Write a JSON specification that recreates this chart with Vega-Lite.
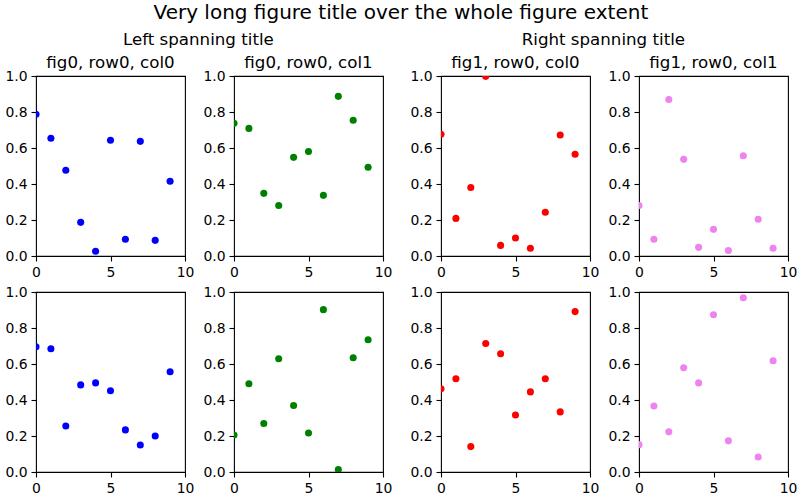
{
  "$schema": "https://vega.github.io/schema/vega-lite/v6.json",
  "padding": {"left": 4, "top": 3, "right": 0, "bottom": 0},
  "title": {"text": "Very long figure title over the whole figure extent", "fontSize": 20, "anchor": "middle", "frame": "bounds", "baseline": "alphabetic", "offset": -7},
  "datasets": {
    "f0r0c0": [{"x":0,"y":0.787},{"x":1,"y":0.654},{"x":2,"y":0.476},{"x":3,"y":0.187},{"x":4,"y":0.026},{"x":5,"y":0.643},{"x":6,"y":0.093},{"x":7,"y":0.637},{"x":8,"y":0.087},{"x":9,"y":0.415}],
    "f0r0c1": [{"x":0,"y":0.737},{"x":1,"y":0.709},{"x":2,"y":0.348},{"x":3,"y":0.281},{"x":4,"y":0.548},{"x":5,"y":0.581},{"x":6,"y":0.337},{"x":7,"y":0.887},{"x":8,"y":0.754},{"x":9,"y":0.493}],
    "f1r0c0": [{"x":0,"y":0.676},{"x":1,"y":0.209},{"x":2,"y":0.381},{"x":3,"y":0.998},{"x":4,"y":0.059},{"x":5,"y":0.100},{"x":6,"y":0.043},{"x":7,"y":0.243},{"x":8,"y":0.672},{"x":9,"y":0.565}],
    "f1r0c1": [{"x":0,"y":0.281},{"x":1,"y":0.093},{"x":2,"y":0.869},{"x":3,"y":0.537},{"x":4,"y":0.048},{"x":5,"y":0.148},{"x":6,"y":0.031},{"x":7,"y":0.557},{"x":8,"y":0.204},{"x":9,"y":0.043}],
    "f0r1c0": [{"x":0,"y":0.696},{"x":1,"y":0.685},{"x":2,"y":0.256},{"x":3,"y":0.484},{"x":4,"y":0.495},{"x":5,"y":0.451},{"x":6,"y":0.234},{"x":7,"y":0.150},{"x":8,"y":0.200},{"x":9,"y":0.557}],
    "f0r1c1": [{"x":0,"y":0.206},{"x":1,"y":0.490},{"x":2,"y":0.269},{"x":3,"y":0.629},{"x":4,"y":0.369},{"x":5,"y":0.217},{"x":6,"y":0.902},{"x":7,"y":0.013},{"x":8,"y":0.635},{"x":9,"y":0.735}],
    "f1r1c0": [{"x":0,"y":0.462},{"x":1,"y":0.518},{"x":2,"y":0.141},{"x":3,"y":0.714},{"x":4,"y":0.657},{"x":5,"y":0.317},{"x":6,"y":0.445},{"x":7,"y":0.518},{"x":8,"y":0.334},{"x":9,"y":0.891}],
    "f1r1c1": [{"x":0,"y":0.152},{"x":1,"y":0.367},{"x":2,"y":0.223},{"x":3,"y":0.579},{"x":4,"y":0.495},{"x":5,"y":0.874},{"x":6,"y":0.173},{"x":7,"y":0.968},{"x":8,"y":0.083},{"x":9,"y":0.618}]
  },
  "hconcat": [
    {
      "title": {"text": "Left spanning title", "baseline": "alphabetic", "offset": -7},
      "vconcat": [
        {"hconcat": [
          {"width": 149, "height": 180, "data": {"name": "f0r0c0"}, "title": {"text": "fig0, row0, col0", "baseline": "alphabetic", "offset": -16},
           "mark": {"type": "circle", "color": "#0000ff", "size": 50, "opacity": 1, "clip": true},
           "encoding": {"x": {"field": "x", "type": "quantitative", "title": null, "scale": {"domain": [0, 10], "nice": false}, "axis": {"values": [0, 5, 10]}},
                        "y": {"field": "y", "type": "quantitative", "title": null, "scale": {"domain": [0, 1], "nice": false}, "axis": {"values": [0, 0.2, 0.4, 0.6, 0.8, 1], "format": ".1f"}}}},
          {"width": 149, "height": 180, "data": {"name": "f0r0c1"}, "title": {"text": "fig0, row0, col1", "baseline": "alphabetic", "offset": -16},
           "mark": {"type": "circle", "color": "#008000", "size": 50, "opacity": 1, "clip": true},
           "encoding": {"x": {"field": "x", "type": "quantitative", "title": null, "scale": {"domain": [0, 10], "nice": false}, "axis": {"values": [0, 5, 10]}},
                        "y": {"field": "y", "type": "quantitative", "title": null, "scale": {"domain": [0, 1], "nice": false}, "axis": {"values": [0, 0.2, 0.4, 0.6, 0.8, 1], "format": ".1f"}}}}
        ], "spacing": 7},
        {"hconcat": [
          {"width": 149, "height": 180, "data": {"name": "f0r1c0"},
           "mark": {"type": "circle", "color": "#0000ff", "size": 50, "opacity": 1, "clip": true},
           "encoding": {"x": {"field": "x", "type": "quantitative", "title": null, "scale": {"domain": [0, 10], "nice": false}, "axis": {"values": [0, 5, 10]}},
                        "y": {"field": "y", "type": "quantitative", "title": null, "scale": {"domain": [0, 1], "nice": false}, "axis": {"values": [0, 0.2, 0.4, 0.6, 0.8, 1], "format": ".1f"}}}},
          {"width": 149, "height": 180, "data": {"name": "f0r1c1"},
           "mark": {"type": "circle", "color": "#008000", "size": 50, "opacity": 1, "clip": true},
           "encoding": {"x": {"field": "x", "type": "quantitative", "title": null, "scale": {"domain": [0, 10], "nice": false}, "axis": {"values": [0, 5, 10]}},
                        "y": {"field": "y", "type": "quantitative", "title": null, "scale": {"domain": [0, 1], "nice": false}, "axis": {"values": [0, 0.2, 0.4, 0.6, 0.8, 1], "format": ".1f"}}}}
        ], "spacing": 7}
      ],
      "spacing": 4
    },
    {
      "title": {"text": "Right spanning title", "baseline": "alphabetic", "offset": -7},
      "vconcat": [
        {"hconcat": [
          {"width": 149, "height": 180, "data": {"name": "f1r0c0"}, "title": {"text": "fig1, row0, col0", "baseline": "alphabetic", "offset": -16},
           "mark": {"type": "circle", "color": "#ff0000", "size": 50, "opacity": 1, "clip": true},
           "encoding": {"x": {"field": "x", "type": "quantitative", "title": null, "scale": {"domain": [0, 10], "nice": false}, "axis": {"values": [0, 5, 10]}},
                        "y": {"field": "y", "type": "quantitative", "title": null, "scale": {"domain": [0, 1], "nice": false}, "axis": {"values": [0, 0.2, 0.4, 0.6, 0.8, 1], "format": ".1f"}}}},
          {"width": 149, "height": 180, "data": {"name": "f1r0c1"}, "title": {"text": "fig1, row0, col1", "baseline": "alphabetic", "offset": -16},
           "mark": {"type": "circle", "color": "#ee82ee", "size": 50, "opacity": 1, "clip": true},
           "encoding": {"x": {"field": "x", "type": "quantitative", "title": null, "scale": {"domain": [0, 10], "nice": false}, "axis": {"values": [0, 5, 10]}},
                        "y": {"field": "y", "type": "quantitative", "title": null, "scale": {"domain": [0, 1], "nice": false}, "axis": {"values": [0, 0.2, 0.4, 0.6, 0.8, 1], "format": ".1f"}}}}
        ], "spacing": 7},
        {"hconcat": [
          {"width": 149, "height": 180, "data": {"name": "f1r1c0"},
           "mark": {"type": "circle", "color": "#ff0000", "size": 50, "opacity": 1, "clip": true},
           "encoding": {"x": {"field": "x", "type": "quantitative", "title": null, "scale": {"domain": [0, 10], "nice": false}, "axis": {"values": [0, 5, 10]}},
                        "y": {"field": "y", "type": "quantitative", "title": null, "scale": {"domain": [0, 1], "nice": false}, "axis": {"values": [0, 0.2, 0.4, 0.6, 0.8, 1], "format": ".1f"}}}},
          {"width": 149, "height": 180, "data": {"name": "f1r1c1"},
           "mark": {"type": "circle", "color": "#ee82ee", "size": 50, "opacity": 1, "clip": true},
           "encoding": {"x": {"field": "x", "type": "quantitative", "title": null, "scale": {"domain": [0, 10], "nice": false}, "axis": {"values": [0, 5, 10]}},
                        "y": {"field": "y", "type": "quantitative", "title": null, "scale": {"domain": [0, 1], "nice": false}, "axis": {"values": [0, 0.2, 0.4, 0.6, 0.8, 1], "format": ".1f"}}}}
        ], "spacing": 7}
      ],
      "spacing": 4
    }
  ],
  "spacing": 16,
  "config": {
    "background": "white",
    "font": "DejaVu Sans",
    "view": {"stroke": "black", "strokeWidth": 1.1},
    "axis": {"domain": false, "grid": false, "ticks": true, "tickColor": "black", "tickWidth": 1.1, "tickSize": 5, "labelPadding": 4, "labelFont": "DejaVu Sans", "labelFontSize": 13.9, "labelColor": "black", "labelFlush": false, "labelOverlap": false},
    "title": {"font": "DejaVu Sans", "fontSize": 16.67, "fontWeight": "normal", "color": "black", "anchor": "middle"}
  }
}
